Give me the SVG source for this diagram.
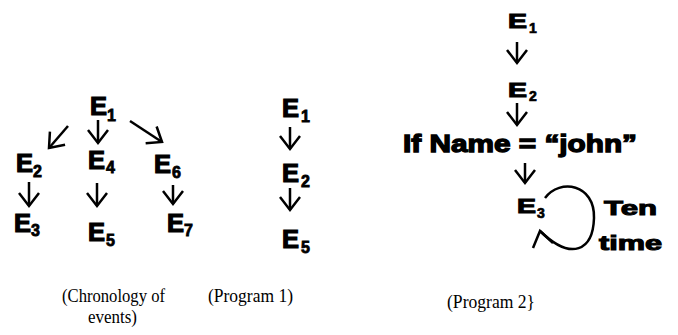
<svg xmlns="http://www.w3.org/2000/svg" width="678" height="335" viewBox="0 0 678 335">
<style>
.e{font-family:"Liberation Sans",Arial,sans-serif;font-weight:bold;font-size:25px;fill:#000;stroke:#000;stroke-width:1.2px}
.s{font-family:"Liberation Sans",Arial,sans-serif;font-weight:bold;font-size:16px;fill:#000;stroke:#000;stroke-width:0.8px}
.e2{font-family:"Liberation Sans",Arial,sans-serif;font-weight:bold;font-size:21px;fill:#000;stroke:#000;stroke-width:1.1px}
.s2{font-family:"Liberation Sans",Arial,sans-serif;font-weight:bold;font-size:14px;fill:#000;stroke:#000;stroke-width:0.7px}
.big{font-family:"Liberation Sans",Arial,sans-serif;font-weight:bold;font-size:24px;fill:#000;stroke:#000;stroke-width:1.3px}
.cap{font-family:"Liberation Serif","Times New Roman",serif;font-size:18px;fill:#000}
.ln{fill:none;stroke:#000;stroke-width:2.5;marker-end:url(#ah)}
</style>
<defs>
<marker id="ah" markerUnits="userSpaceOnUse" markerWidth="30" markerHeight="30" refX="15" refY="15" orient="auto" overflow="visible">
<path d="M2,5 L15,15 L2,25" fill="none" stroke="#000" stroke-width="2.5"/>
</marker>
</defs>
<rect width="678" height="335" fill="#fff"/>
<g id="connectors">
<path class="ln" d="M68,126 L49,148"/>
<path class="ln" d="M98,120 L98,143"/>
<path class="ln" d="M130,121 L162,142"/>
<path class="ln" d="M29,182 L29,206"/>
<path class="ln" d="M97,183 L97,206"/>
<path class="ln" d="M173,185 L173,204"/>
<path class="ln" d="M290,127 L290,149"/>
<path class="ln" d="M290,188 L290,210"/>
<path class="ln" d="M517,42 L517,63"/>
<path class="ln" d="M517,103 L517,125"/>
<path class="ln" d="M525,163 L525,183"/>
<path d="M545,198 C560,178 595,184 594,218 C593,250 572,262 540,231" fill="none" stroke="#000" stroke-width="2.5"/>
<path d="M533,248 L540,231 L553,243" fill="none" stroke="#000" stroke-width="2.5"/>
</g>
<g id="c-E1"><text class="e" x="90" y="115" textLength="17" lengthAdjust="spacingAndGlyphs">E</text><text class="s" x="107" y="121">1</text></g>
<g id="c-E2"><text class="e" x="16" y="172" textLength="17" lengthAdjust="spacingAndGlyphs">E</text><text class="s" x="33" y="177">2</text></g>
<g id="c-E4"><text class="e" x="88" y="169" textLength="17" lengthAdjust="spacingAndGlyphs">E</text><text class="s" x="106" y="173">4</text></g>
<g id="c-E6"><text class="e" x="154" y="173" textLength="17" lengthAdjust="spacingAndGlyphs">E</text><text class="s" x="172" y="178">6</text></g>
<g id="c-E3"><text class="e" x="14" y="232" textLength="17" lengthAdjust="spacingAndGlyphs">E</text><text class="s" x="31" y="236">3</text></g>
<g id="c-E5"><text class="e" x="88" y="241" textLength="17" lengthAdjust="spacingAndGlyphs">E</text><text class="s" x="106" y="246">5</text></g>
<g id="c-E7"><text class="e" x="167" y="232" textLength="17" lengthAdjust="spacingAndGlyphs">E</text><text class="s" x="184" y="236">7</text></g>
<g id="p1-E1"><text class="e" x="282" y="117" textLength="17" lengthAdjust="spacingAndGlyphs">E</text><text class="s" x="301" y="122">1</text></g>
<g id="p1-E2"><text class="e" x="282" y="182" textLength="17" lengthAdjust="spacingAndGlyphs">E</text><text class="s" x="301" y="187">2</text></g>
<g id="p1-E5"><text class="e" x="282" y="248" textLength="17" lengthAdjust="spacingAndGlyphs">E</text><text class="s" x="301" y="253">5</text></g>
<g id="p2-E1"><text class="e2" x="508" y="28" textLength="19" lengthAdjust="spacingAndGlyphs">E</text><text class="s2" x="529" y="33">1</text></g>
<g id="p2-E2"><text class="e2" x="508" y="97" textLength="19" lengthAdjust="spacingAndGlyphs">E</text><text class="s2" x="529" y="101">2</text></g>
<g id="p2-if"><text class="big" x="403" y="152" textLength="234" lengthAdjust="spacingAndGlyphs">If Name = “john”</text></g>
<g id="p2-E3"><text class="e2" x="517" y="213" textLength="19" lengthAdjust="spacingAndGlyphs">E</text><text class="s2" x="537" y="218">3</text></g>
<g id="p2-ten"><text class="e2" x="604" y="215" textLength="53" lengthAdjust="spacingAndGlyphs">Ten</text><text class="e2" x="599" y="250" textLength="63" lengthAdjust="spacingAndGlyphs">time</text></g>
<g id="captions">
<text class="cap" x="62" y="302" textLength="103" lengthAdjust="spacingAndGlyphs">(Chronology of</text>
<text class="cap" x="88" y="323" textLength="49" lengthAdjust="spacingAndGlyphs">events)</text>
<text class="cap" x="208" y="302" textLength="85" lengthAdjust="spacingAndGlyphs">(Program 1)</text>
<text class="cap" x="447" y="308" textLength="88" lengthAdjust="spacingAndGlyphs">(Program 2}</text>
</g>
</svg>
